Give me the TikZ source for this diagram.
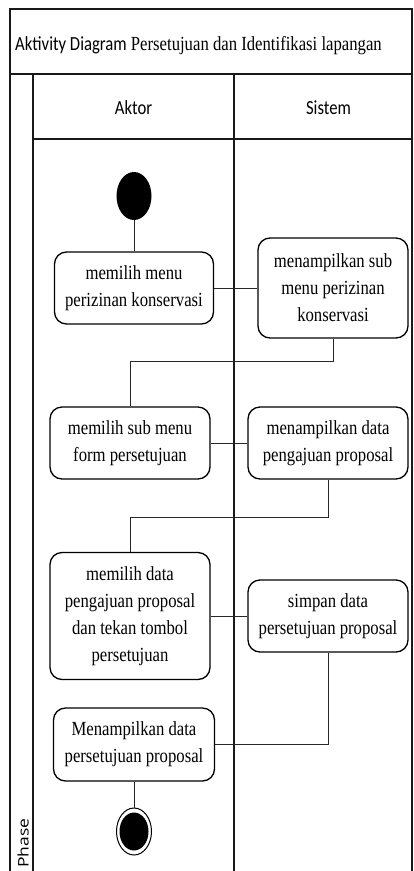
\documentclass[tikz,border=0pt]{standalone}
\usepackage{fontspec}
\setmainfont{Liberation Serif}
\newfontfamily\serifc[FakeStretch=0.835]{Liberation Serif}
\newfontfamily\sansc[FakeStretch=0.835]{Carlito}
\newfontfamily\phasefont{Open Sans}
\usetikzlibrary{shapes.geometric}

\tikzset{
  frame/.style={line width=1.6pt, draw=black!90},
  act/.style={draw, line width=1.3pt, rounded corners=12pt, align=center,
    inner sep=0pt, font=\serifc\fontsize{20}{27}\selectfont},
  flow/.style={line width=0.8pt, draw=black!85},
  lanehead/.style={anchor=base, inner sep=0pt, font=\sansc\fontsize{20}{24}\selectfont},
}

\begin{document}
\begin{tikzpicture}[x=1pt, y=-1pt]
\useasboundingbox (0,0) rectangle (414,871);

% swimlane frame
\draw[frame] (10,871) -- (10,9) -- (412,9) -- (412,871);
\draw[frame] (10,74) -- (412,74);
\draw[frame] (33,74) -- (33,871);
\draw[frame] (33,139) -- (412,139);
\draw[frame] (234,74) -- (234,871);

% title and lane headers
\node[anchor=base west, inner sep=0pt, font=\serifc\fontsize{20}{24}\selectfont] (title) at (15,50)
  {{\sansc Aktivity Diagram} Persetujuan dan Identifikasi lapangan};
\node[lanehead] (aktor) at (133.5,114) {Aktor};
\node[lanehead] (sistem) at (328.5,114) {Sistem};
\node[rotate=90, anchor=base west, inner sep=0pt, font=\phasefont\fontsize{17.5}{20}\selectfont] (phase) at (28.5,868)
  {\scalebox{1}[0.835]{Phase}};

% start node
\node[ellipse, fill=black, minimum width=35pt, minimum height=48pt, inner sep=0pt] (start) at (134,196) {};

% actions
\node[act, minimum width=159pt, minimum height=72pt] (b1) at (134,288) {memilih menu\\perizinan konservasi};
\node[act, minimum width=150pt, minimum height=100pt] (b2) at (333,288) {menampilkan sub\\menu perizinan\\konservasi};
\node[act, minimum width=160pt, minimum height=72pt] (b3) at (130,443) {memilih sub menu\\form persetujuan};
\node[act, minimum width=160pt, minimum height=72pt] (b4) at (328,443) {menampilkan data\\pengajuan proposal};
\node[act, minimum width=160pt, minimum height=127pt] (b5) at (130,616) {memilih data\\pengajuan proposal\\dan tekan tombol\\persetujuan};
\node[act, minimum width=160pt, minimum height=72pt] (b6) at (328,616) {simpan data\\persetujuan proposal};
\node[act, minimum width=161pt, minimum height=73pt] (b7) at (134,744.5) {Menampilkan data\\persetujuan proposal};

% final node
\node[ellipse, draw=black, line width=1pt, minimum width=35pt, minimum height=47pt, inner sep=0pt] (end) at (134,831.5) {};
\fill[black] (end.center) ellipse [x radius=14.5pt, y radius=19pt];

% control flow
\draw[flow] (start) -- (b1);
\draw[flow] (b1) -- (b2);
\draw[flow] (b2.south) -- ++(0,23) -| (b3.north);
\draw[flow] (b3) -- (b4);
\draw[flow] (b4.south) -- ++(0,38) -| (b5.north);
\draw[flow] (b5) -- (b6);
\draw[flow] (b6.south) |- (b7.east);
\draw[flow] (b7) -- (end);
\end{tikzpicture}
\end{document}
